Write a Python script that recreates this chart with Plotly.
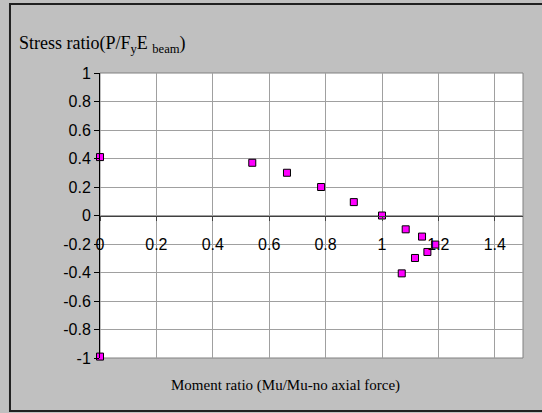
import plotly.graph_objects as go

moment_ratio = [0.0, 0.0, 0.54, 0.663, 0.784, 0.90, 1.0, 1.084, 1.142, 1.189, 1.161, 1.117, 1.07]
stress_ratio = [0.41, -0.99, 0.37, 0.30, 0.20, 0.094, 0.0, -0.097, -0.148, -0.204, -0.256, -0.298, -0.406]

x_ticks = [0, 0.2, 0.4, 0.6, 0.8, 1, 1.2, 1.4]
x_tick_text = ["0", "0.2", "0.4", "0.6", "0.8", "1", "1.2", "1.4"]
y_ticks = [1, 0.8, 0.6, 0.4, 0.2, 0, -0.2, -0.4, -0.6, -0.8, -1]
y_tick_text = ["1", "0.8", "0.6", "0.4", "0.2", "0", "-0.2", "-0.4", "-0.6", "-0.8", "-1"]

y_title = "Stress ratio(P/F<sub>y</sub>E <sub>beam</sub>)"
x_title = "Moment ratio (Mu/Mu-no axial force)"

fig = go.Figure()
fig.add_trace(go.Scatter(
    x=moment_ratio, y=stress_ratio, mode="markers",
    marker=dict(symbol="square", size=7, color="#FF00FF",
                line=dict(color="black", width=1)),
    showlegend=False, cliponaxis=False,
))

fig.update_layout(
    width=542, height=413,
    margin=dict(l=100, r=19, t=73, b=55, autoexpand=False),
    paper_bgcolor="#C0C0C0",
    plot_bgcolor="white",
    font=dict(family="Liberation Sans, Arial", size=16, color="black"),
    xaxis=dict(
        range=[0, 1.5], tickvals=x_ticks, ticktext=x_tick_text,
        anchor="free", position=0.5, automargin=False,
        showgrid=True, gridcolor="#A0A0A0", gridwidth=1,
        showline=True, linecolor="#404040", linewidth=1,
        zeroline=False,
        ticks="outside", ticklen=4, tickcolor="#404040",
        ticklabelstandoff=10,
        tickfont=dict(family="Liberation Sans, Arial", size=16),
    ),
    yaxis=dict(
        range=[-1, 1], tickvals=y_ticks, ticktext=y_tick_text,
        automargin=False,
        showgrid=True, gridcolor="#A0A0A0", gridwidth=1,
        showline=True, linecolor="black", linewidth=1,
        zeroline=False,
        ticks="outside", ticklen=5, tickcolor="black",
        tickfont=dict(family="Liberation Sans, Arial", size=16),
    ),
)

# plot-area border (top / right)
fig.add_shape(type="rect", xref="x domain", yref="y domain", x0=0, x1=1, y0=0, y1=1,
              line=dict(color="#808080", width=1), layer="below")
# outer chart border
fig.add_shape(type="rect", xref="paper", yref="paper", x0=-0.2128, x1=1.06, y0=-0.186, y1=1.242,
              line=dict(color="#202020", width=2), layer="below")

fig.add_annotation(text=y_title, xref="paper", yref="paper", x=-0.197, y=1.10,
                   xanchor="left", yanchor="middle", showarrow=False,
                   font=dict(family="Liberation Serif, Times New Roman", size=18))
fig.add_annotation(text=x_title, xref="paper", yref="paper", x=0.438, y=-0.095,
                   xanchor="center", yanchor="middle", showarrow=False,
                   font=dict(family="Liberation Serif, Times New Roman", size=15))

fig.write_html("out.html", config={"displayModeBar": False},
               post_script="document.body.style.margin='0';")
